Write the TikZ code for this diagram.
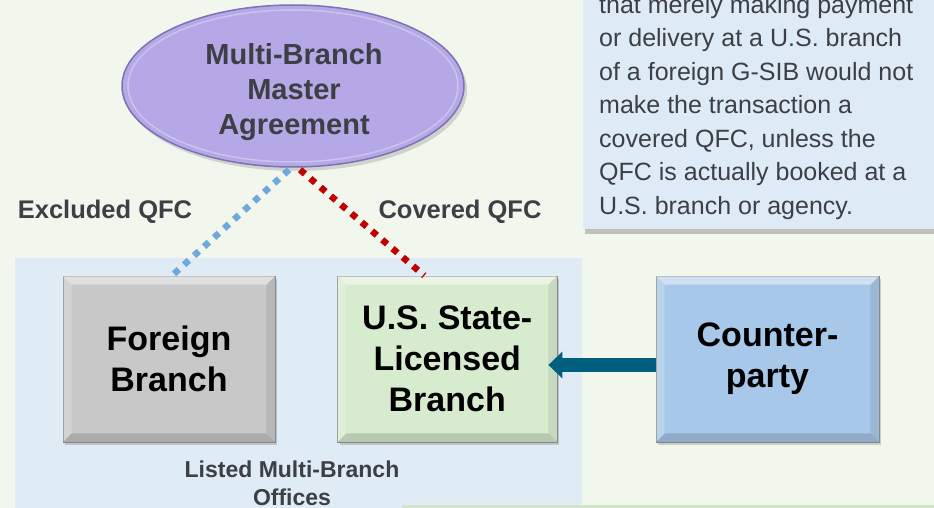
\documentclass[tikz,border=0pt]{standalone}
\usepackage{fontspec}
\setmainfont{Liberation Sans}
\usetikzlibrary{shadows,shapes.geometric,arrows.meta}
\definecolor{bgc}{HTML}{F2F7EE}
\definecolor{regionc}{HTML}{E0ECF5}
\definecolor{stripc}{HTML}{D3E4C9}
\definecolor{tboxc}{HTML}{DEEBF6}
\definecolor{ellc}{HTML}{B5A8E6}
\definecolor{ellrim}{HTML}{7E72B4}
\definecolor{grayc}{HTML}{C8C8C8}
\definecolor{greenc}{HTML}{D7EBCF}
\definecolor{bluec}{HTML}{A7C8E8}
\definecolor{arrowc}{HTML}{005F7F}
\definecolor{labc}{HTML}{3D3F45}
\definecolor{dotblue}{HTML}{6FA8DC}
\definecolor{dotred}{HTML}{C00000}
\newcommand\bevelbox[1]{%
  \fill[white,opacity=.45] (#1.north west) -- (#1.north east) -- ([shift={(-9pt,-9pt)}]#1.north east) -- ([shift={(9pt,-9pt)}]#1.north west) -- cycle;
  \fill[black,opacity=.14] (#1.south west) -- (#1.south east) -- ([shift={(-9pt,9pt)}]#1.south east) -- ([shift={(9pt,9pt)}]#1.south west) -- cycle;
  \fill[white,opacity=.2] (#1.north west) -- ([shift={(9pt,-9pt)}]#1.north west) -- ([shift={(9pt,9pt)}]#1.south west) -- (#1.south west) -- cycle;
  \fill[black,opacity=.08] (#1.north east) -- ([shift={(-9pt,-9pt)}]#1.north east) -- ([shift={(-9pt,9pt)}]#1.south east) -- (#1.south east) -- cycle;
}
\tikzset{
  boxnode/.style={rectangle, minimum height=166pt, draw=black!45, line width=.8pt,
    align=center, font=\bfseries\fontsize{34}{41}\selectfont, text=black, inner sep=0pt,
    drop shadow={shadow xshift=2pt, shadow yshift=-3pt, opacity=.35}},
  lab/.style={font=\bfseries\fontsize{25.5}{30}\selectfont, text=labc, inner sep=0pt},
  dotline/.style={line width=6.5pt, dash pattern=on 6.5pt off 7pt, line cap=butt},
}
\begin{document}
\begin{tikzpicture}[x=1pt,y=-1pt]
\useasboundingbox (0,0) rectangle (934,508);
\clip (0,0) rectangle (934,508);
\fill[bgc] (0,0) rectangle (934,508);
% listed offices region
\node[fill=regionc, minimum width=567pt, minimum height=262pt, anchor=north west, inner sep=0pt] (offices) at (15,258) {};
\fill[stripc] (402,505) rectangle (934,520);
% text box
\node[fill=tboxc, minimum width=360pt, minimum height=300pt, anchor=south west, inner sep=0pt,
  drop shadow={shadow xshift=2pt, shadow yshift=-5pt, opacity=.45}] (tbox) at (583,229) {};
\node[anchor=base west, align=left, inner sep=0pt, text=labc, font=\fontsize{25}{33.5}\selectfont] (ttext) at (599,214)
 {that merely making payment\\or delivery at a U.S. branch\\of a foreign G-SIB would not\\make the transaction a\\covered QFC, unless the\\QFC is actually booked at a\\U.S. branch or agency.};
% ellipse
\node[ellipse, fill=ellc, draw=ellrim, line width=1.5pt, minimum width=342pt, minimum height=162pt,
  inner sep=0pt, drop shadow={shadow xshift=3pt, shadow yshift=-4pt, opacity=.3}] (mba) at (293,86) {};
\draw[white, opacity=.3, line width=1.5pt] (mba.center) ellipse (165pt and 76pt);
\node[align=center, inner sep=0pt, text=labc, font=\bfseries\fontsize{29}{35}\selectfont] (mbatext) at (294,92) {Multi-Branch\\Master\\Agreement};
% boxes
\node[boxnode, fill=grayc, minimum width=212pt] (foreign) at (169,359) {Foreign\\Branch};
\node[boxnode, fill=greenc, minimum width=219.5pt] (us) at (447.25,359) {U.S. State-\\Licensed\\Branch};
\node[boxnode, fill=bluec, minimum width=223pt] (cp) at (767.5,359) {Counter-\\party};
\bevelbox{foreign}
\bevelbox{us}
\bevelbox{cp}
% connectors
\draw[dotline, dotblue] ([xshift=-4pt,yshift=-2pt]mba.south) -- ([xshift=3pt]foreign.north);
\draw[dotline, dotred] ([xshift=7pt,yshift=-2pt]mba.south) -- ([xshift=-23pt]us.north);
\draw[arrowc, line width=14pt, -{Triangle[width=26pt,length=14pt]}, shorten >=-9pt]
  ([yshift=-6pt]cp.west) -- ([yshift=-6pt]us.east);
% labels
\node[lab, anchor=base] (excl) at (105,218) {Excluded QFC};
\node[lab, anchor=base] (cov) at (460,218) {Covered QFC};
\node[align=center, inner sep=0pt, text=labc, font=\bfseries\fontsize{23}{28}\selectfont, anchor=base] (offlab) at (292,505) {Listed Multi-Branch\\Offices};
\end{tikzpicture}
\end{document}
